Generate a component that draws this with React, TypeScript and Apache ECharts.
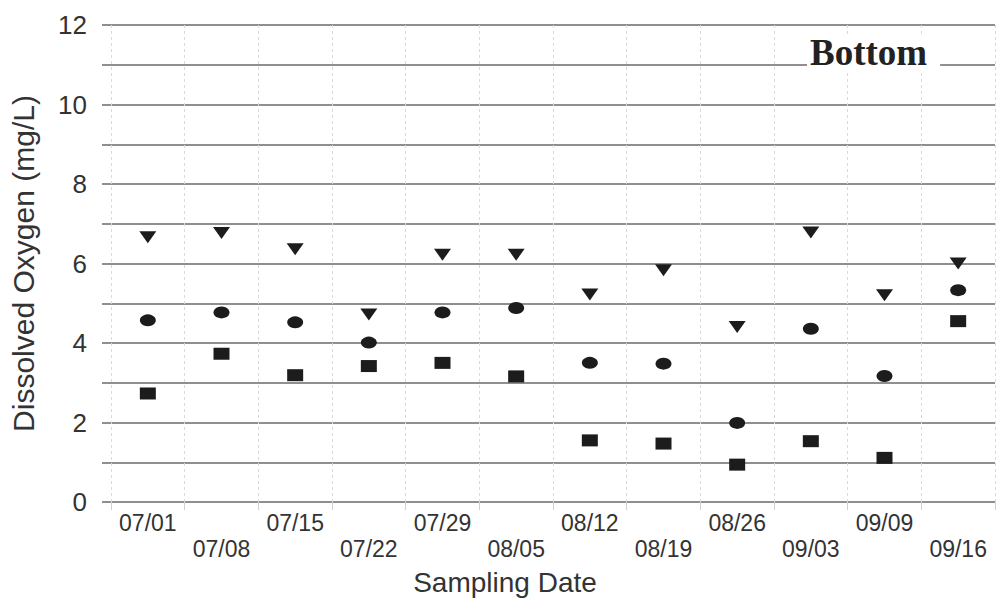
import React, { useEffect, useRef } from "react";
import * as echarts from "echarts";

const categories = ["07/01", "07/08", "07/15", "07/22", "07/29", "08/05", "08/12", "08/19", "08/26", "09/03", "09/09", "09/16"];
const triangleValues = [6.66, 6.77, 6.36, 4.72, 6.22, 6.22, 5.22, 5.83, 4.4, 6.78, 5.2, 6.0];
const circleValues = [4.57, 4.77, 4.52, 4.01, 4.77, 4.88, 3.5, 3.48, 1.99, 4.36, 3.17, 5.33];
const squareValues = [2.73, 3.73, 3.19, 3.42, 3.5, 3.16, 1.55, 1.47, 0.94, 1.53, 1.11, 4.55];
const yLabelValues = [0, 2, 4, 6, 8, 10, 12];

const markColor = "#1c1c1c";
const textColor = "#333";
const gridColor = "#6a6a6a";

export default function App() {
  const ref = useRef<HTMLDivElement>(null);
  useEffect(() => {
    if (!ref.current) return;
    const chart = echarts.init(ref.current, null, { renderer: "svg" });
    const sym = (symbol: string, size: number[], rotate?: number) => ({
      type: "scatter",
      symbol,
      symbolSize: size,
      symbolRotate: rotate || 0,
      itemStyle: { color: markColor, opacity: 1 },
    });
    chart.setOption({
      animation: false,
      backgroundColor: "#fff",
      grid: { left: 109, right: 3, top: 25, bottom: 101 },
      xAxis: {
        type: "category",
        data: categories,
        boundaryGap: true,
        axisLine: { show: false },
        axisTick: { show: true, length: 8, lineStyle: { color: "#d0d0d0" } },
        splitLine: { show: true, interval: 0, lineStyle: { color: "#dadada", width: 1, type: [3, 3] } },
        axisLabel: {
          interval: 0,
          margin: 8,
          fontFamily: "Liberation Sans, Arial",
          fontSize: 23,
          lineHeight: 26,
          color: textColor,
          formatter: (v: string, i: number) => (i % 2 === 0 ? v : "\n" + v),
        },
      },
      yAxis: {
        type: "value",
        min: 0,
        max: 12,
        interval: 1,
        axisLine: { show: false },
        axisTick: { show: true, length: 9, lineStyle: { color: gridColor, width: 1.5 } },
        splitLine: { show: true, lineStyle: { color: gridColor, width: 1.5 } },
        axisLabel: {
          margin: 24,
          fontFamily: "Liberation Sans, Arial",
          fontSize: 26,
          color: textColor,
          formatter: (v: number) => (yLabelValues.indexOf(v) >= 0 ? String(v) : ""),
        },
        name: "Dissolved Oxygen (mg/L)",
        nameLocation: "middle",
        nameGap: 73,
        nameTextStyle: { fontFamily: "Liberation Sans, Arial", fontSize: 30, color: textColor },
      },
      graphic: [
        {
          type: "text",
          left: 807,
          top: 34,
          z: 100,
          style: {
            text: "Bottom",
            font: 'bold 37px "Liberation Serif", "Times New Roman", serif',
            fill: "#222",
            backgroundColor: "#fff",
            padding: [0, 13, 0, 3],
          },
        },
        {
          type: "text",
          x: 505,
          y: 582,
          z: 100,
          style: {
            text: "Sampling Date",
            font: '28px "Liberation Sans", Arial, sans-serif',
            fill: textColor,
            align: "center",
            verticalAlign: "middle",
          },
        },
      ],
      series: [
        { ...sym("triangle", [17, 12], 180), name: "max", data: triangleValues },
        { ...sym("circle", [16, 12]), name: "mean", data: circleValues },
        { ...sym("rect", [16, 12]), name: "min", data: squareValues },
      ],
    });
    return () => chart.dispose();
  }, []);
  return (
    <div
      ref={ref}
      style={{ position: "fixed", left: 0, top: 0, width: 998, height: 603, background: "#fff" }}
    />
  );
}
